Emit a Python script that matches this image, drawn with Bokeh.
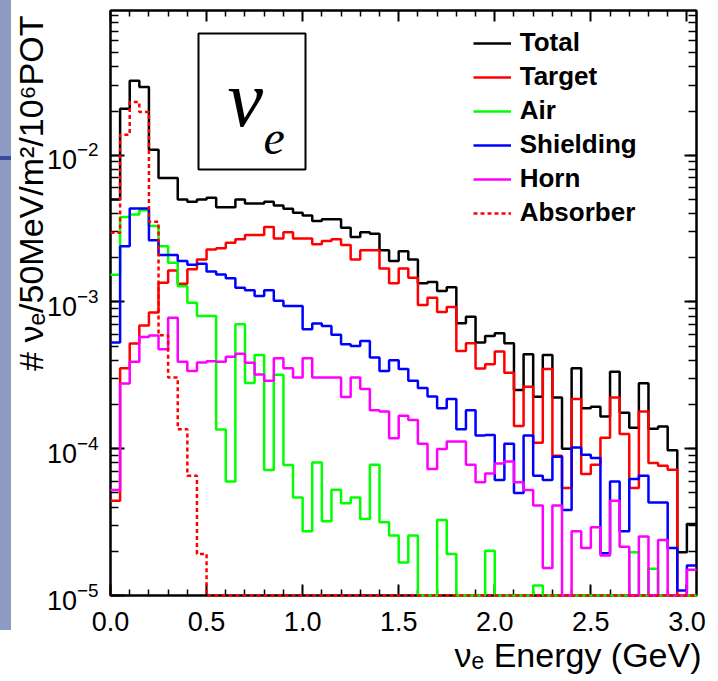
import math
from bokeh.plotting import figure
from bokeh.models import (Range1d, LogAxis, LinearAxis, LogTicker, FixedTicker,
                          PrintfTickFormatter, CustomJSTickFormatter, Label, BoxAnnotation, Div, Title)
from bokeh.layouts import row
from bokeh.embed import file_html
from bokeh.resources import INLINE

# ---------------- data (per 50 MeV bin, 0 .. 3.05 GeV) ----------------
bin_width = 0.05
n_bins = 61

total = [5.0e-3, 2.07e-2, 3.22e-2, 2.92e-2, 1.09e-2, 6.98e-3, 6.98e-3, 5.0e-3, 4.81e-3, 5.0e-3,
         5.13e-3, 4.42e-3, 4.42e-3, 5.0e-3, 4.69e-3, 4.69e-3, 4.81e-3, 4.55e-3, 4.31e-3, 4.05e-3,
         3.89e-3, 3.56e-3, 3.66e-3, 3.66e-3, 3.20e-3, 2.77e-3, 2.99e-3, 2.92e-3, 2.25e-3, 1.90e-3,
         2.22e-3, 1.95e-3, 1.34e-3, 1.37e-3, 1.19e-3, 1.26e-3, 7.16e-4, 7.94e-4, 5.29e-4, 5.87e-4,
         6.12e-4, 5.24e-4, 2.51e-4, 4.41e-4, 2.26e-4, 4.35e-4, 2.23e-4, 1.0e-4, 3.53e-4, 1.89e-4,
         1.93e-4, 1.66e-4, 3.34e-4, 1.76e-4, 1.39e-4, 2.79e-4, 1.37e-4, 1.42e-4, 9.78e-5, 1.97e-5, 3.07e-5]

target = [4.43e-5, 3.53e-4, 5.22e-4, 6.92e-4, 8.46e-4, 1.35e-3, 1.64e-3, 1.33e-3, 1.67e-3, 1.95e-3,
          2.28e-3, 2.32e-3, 2.53e-3, 2.67e-3, 2.86e-3, 2.86e-3, 3.24e-3, 2.71e-3, 2.98e-3, 2.71e-3,
          2.71e-3, 2.47e-3, 2.60e-3, 2.67e-3, 2.44e-3, 1.95e-3, 2.25e-3, 2.25e-3, 1.69e-3, 1.34e-3,
          1.69e-3, 1.46e-3, 9.54e-4, 1.07e-3, 8.55e-4, 9.25e-4, 4.64e-4, 5.24e-4, 3.52e-4, 3.77e-4,
          4.59e-4, 3.30e-4, 1.43e-4, 2.64e-4, 1.10e-4, 3.49e-4, 8.96e-5, 5.40e-5, 2.18e-4, 6.73e-5,
          7.78e-5, 1.19e-4, 2.23e-4, 1.26e-4, 5.40e-5, 1.79e-4, 8.0e-5, 7.66e-5, 7.20e-5, 0, 0]

air = [1.53e-3, 3.79e-3, 3.95e-3, 4.21e-3, 3.29e-3, 2.40e-3, 1.85e-3, 1.28e-3, 9.89e-4, 8.03e-4,
       8.03e-4, 1.35e-4, 5.97e-5, 7.05e-4, 2.80e-4, 4.36e-4, 7.16e-5, 3.19e-4, 7.75e-5, 4.66e-5,
       2.74e-5, 8.07e-5, 3.20e-5, 5.26e-5, 4.25e-5, 4.66e-5, 3.32e-5, 7.78e-5, 3.15e-5, 2.56e-5,
       1.68e-5, 2.56e-5, 0, 0, 3.27e-5, 1.92e-5, 0, 0, 0, 2.02e-5,
       0, 0, 0, 0, 1.17e-5, 0, 0, 0, 0, 0,
       0, 0, 0, 0, 1.97e-5, 0, 1.52e-5, 0, 0, 0, 0]

shielding = [5.29e-4, 2.40e-3, 4.34e-3, 4.34e-3, 2.63e-3, 2.09e-3, 2.09e-3, 1.90e-3, 1.79e-3, 1.82e-3,
             1.61e-3, 1.54e-3, 1.45e-3, 1.25e-3, 1.20e-3, 1.10e-3, 1.20e-3, 1.02e-3, 9.39e-4, 9.39e-4,
             6.52e-4, 7.12e-4, 6.87e-4, 5.97e-4, 5.16e-4, 5.02e-4, 5.43e-4, 4.18e-4, 3.39e-4, 4.01e-4,
             3.49e-4, 2.90e-4, 2.59e-4, 2.27e-4, 1.89e-4, 2.18e-4, 1.36e-4, 1.83e-4, 1.23e-4, 1.24e-4,
             6.12e-5, 1.08e-4, 5.0e-5, 1.23e-4, 6.55e-5, 6.12e-5, 8.83e-5, 3.83e-5, 1.02e-4, 9.10e-5,
             8.64e-5, 1.94e-5, 5.99e-5, 2.74e-5, 6.22e-5, 6.55e-5, 4.31e-5, 4.31e-5, 2.11e-5, 1.08e-5, 1.60e-5]

horn = [5.24e-5, 2.78e-4, 3.92e-4, 5.78e-4, 5.91e-4, 4.77e-4, 7.82e-4, 3.92e-4, 3.39e-4, 3.87e-4,
        3.95e-4, 3.92e-4, 4.23e-4, 4.43e-4, 3.85e-4, 3.20e-4, 2.90e-4, 4.14e-4, 3.54e-4, 3.06e-4,
        4.14e-4, 3.06e-4, 3.06e-4, 3.06e-4, 2.25e-4, 3.06e-4, 2.55e-4, 1.83e-4, 1.79e-4, 1.18e-4,
        1.68e-4, 1.57e-4, 1.08e-4, 7.28e-5, 9.95e-5, 1.12e-4, 1.12e-4, 7.78e-5, 5.90e-5, 6.79e-5,
        7.94e-5, 8.20e-5, 5.90e-5, 5.24e-5, 4.10e-5, 1.54e-5, 4.10e-5, 0, 2.74e-5, 2.11e-5,
        2.92e-5, 1.87e-5, 4.43e-5, 2.15e-5, 0, 2.52e-5, 0, 2.39e-5, 0, 0, 1.50e-5]

absorber = [2.96e-3, 1.38e-2, 2.30e-2, 1.97e-2, 3.52e-3, 5.94e-4, 3.06e-4, 1.36e-4, 6.55e-5, 1.92e-5] + [0] * 51

series_names = ["Total", "Target", "Air", "Shielding", "Horn", "Absorber"]
series_values = [total, target, air, shielding, horn, absorber]
series_colors = ["#000000", "#ff0000", "#00ff00", "#0000ff", "#ff00ff", "#ff0000"]
series_dash = ["solid", "solid", "solid", "solid", "solid", "4 3"]

x_major = [0.0, 0.5, 1.0, 1.5, 2.0, 2.5, 3.0]
x_minor = [round(0.1 * i, 1) for i in range(31) if i % 5]

y_min, y_max = 1e-5, 0.0968

x_title = "νₑ Energy (GeV)"
y_title = "# νₑ/50MeV/m²/10⁶POT"

# ---------------- figure ----------------
p = figure(width=707, height=681, x_range=Range1d(0, 3.05), y_range=Range1d(y_min, y_max),
           y_axis_type="log", output_backend="svg", toolbar_location=None,
           min_border_left=99, min_border_right=22, min_border_top=10, min_border_bottom=86)
p.xgrid.visible = False
p.ygrid.visible = False
p.outline_line_color = "black"
p.outline_line_width = 2
p.background_fill_color = "white"
p.border_fill_color = "white"

edges = [round(i * bin_width, 4) for i in range(n_bins + 1)]
for name, vals, col, dash in zip(series_names, series_values, series_colors, series_dash):
    yv = [max(v, y_min) for v in vals]
    p.step(x=edges, y=yv + [yv[-1]], mode="after", line_color=col, line_width=2.5,
           line_dash=dash, legend_label=name, level="overlay")

# axes
xa = p.xaxis[0]
xa.ticker = FixedTicker(ticks=x_major, minor_ticks=x_minor)
xa.formatter = PrintfTickFormatter(format="%.1f")
ya = p.yaxis[0]
ya.ticker.num_minor_ticks = 10

for ax, mj, mn in ((xa, 11, 6), (ya, 14, 8)):
    ax.major_tick_in = mj
    ax.major_tick_out = 0
    ax.minor_tick_in = mn
    ax.minor_tick_out = 0
    ax.major_tick_line_width = 2
    ax.minor_tick_line_width = 1.5
    ax.axis_line_width = 2
    ax.major_label_text_font = "Liberation Sans"
    ax.major_label_text_font_size = "27px"
    ax.major_label_text_color = "black"
xa.major_label_standoff = 16
ya.major_label_standoff = 12

top_ax = LinearAxis(ticker=FixedTicker(ticks=x_major, minor_ticks=x_minor),
                    formatter=CustomJSTickFormatter(code="return ''"))
right_ax = LogAxis(ticker=LogTicker(num_minor_ticks=10),
                   formatter=CustomJSTickFormatter(code="return ''"))
for ax, mj, mn in ((top_ax, 11, 6), (right_ax, 12, 8)):
    ax.major_tick_in = mj
    ax.major_tick_out = 0
    ax.minor_tick_in = mn
    ax.minor_tick_out = 0
    ax.major_tick_line_width = 2
    ax.minor_tick_line_width = 1.5
    ax.axis_line_width = 2
    ax.major_label_text_font_size = "2px"
    ax.major_label_standoff = 0
p.add_layout(top_ax, "above")
p.add_layout(right_ax, "right")

# axis titles, ROOT style (aligned to the far end of each axis)
p.add_layout(Title(text=y_title, align="right", offset=5, standoff=-12,
                   text_font="Liberation Sans", text_font_style="normal",
                   text_font_size="34px", text_color="black"), "left")
p.add_layout(Title(text=x_title, align="right", offset=-5, standoff=0,
                   text_font="Liberation Sans", text_font_style="normal",
                   text_font_size="34px", text_color="black"), "below")

# legend
lg = p.legend[0]
lg.location = (362.7, 365.3)
lg.border_line_color = None
lg.background_fill_alpha = 0
lg.padding = 0
lg.margin = 0
lg.spacing = 0
lg.glyph_width = 38
lg.glyph_height = 34
lg.label_height = 34
lg.label_standoff = 9
lg.label_text_font = "Liberation Sans"
lg.label_text_font_size = "26px"
lg.label_text_font_style = "bold"
lg.label_text_color = "black"

# nu_e box
p.add_layout(BoxAnnotation(left=88, right=195, top=562, bottom=426,
                           left_units="screen", right_units="screen",
                           top_units="screen", bottom_units="screen",
                           fill_color="white", fill_alpha=1.0,
                           line_color="black", line_alpha=1.0, line_width=2))
p.add_layout(Label(x=117, y=497, x_units="screen", y_units="screen", text="ν",
                   text_font="Liberation Serif", text_font_style="italic",
                   text_font_size="80px", text_baseline="alphabetic", text_color="black"))
p.add_layout(Label(x=153, y=458, x_units="screen", y_units="screen", text="e",
                   text_font="Liberation Serif", text_font_style="italic",
                   text_font_size="48px", text_baseline="alphabetic", text_color="black"))

strip = Div(width=11, height=681, margin=0,
            text='<div style="width:11px;height:630px;background:#8D9BC3;position:relative;">'
                 '<div style="position:absolute;left:0;top:156px;width:11px;height:4px;background:#3A4A9C;"></div></div>')

layout = row(strip, p, spacing=0)
open("out.html", "w").write(file_html(layout, INLINE))
